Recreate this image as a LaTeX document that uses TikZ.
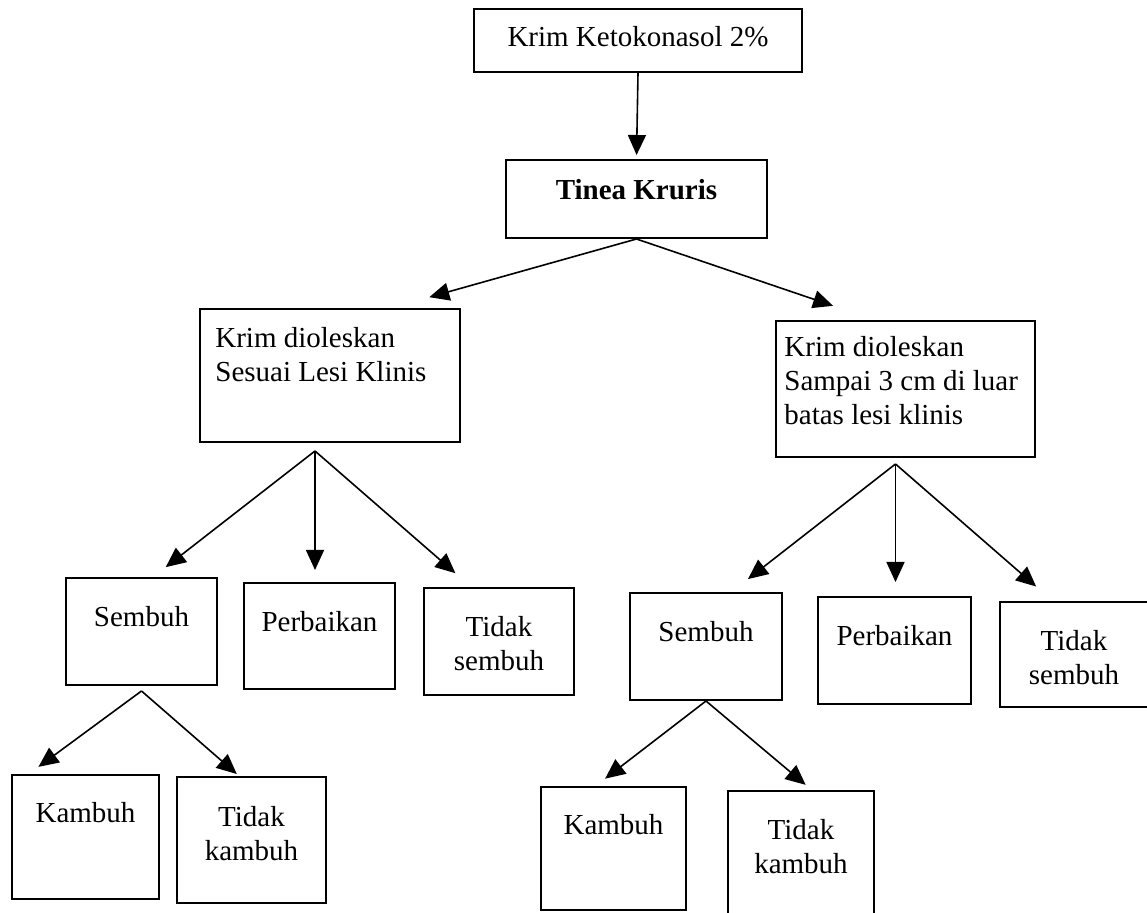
\documentclass[tikz,border=0pt]{standalone}
\usepackage{fontspec}
\setmainfont{Liberation Serif}
\usetikzlibrary{arrows.meta}

\begin{document}
\begin{tikzpicture}[x=0.5pt,y=-0.5pt,
    kotak/.style={draw, line width=1pt, inner sep=0pt},
    teks/.style={inner sep=0pt, font=\fontsize{14.5}{17}\selectfont},
    panah/.style={line width=0.8pt, -{Triangle[length=10pt,width=9pt]}}]
    \useasboundingbox (0,0) rectangle (1147,913);

    % Niveau 1 : krim + diagnosis
    \node[kotak, minimum width=164pt, minimum height=31.5pt] (top) at (638,40.5) {};
    \node[teks, anchor=north] (t-top) at ([yshift=-7.1pt]top.north) {\strut Krim Ketokonasol 2\%};
    \node[kotak, minimum width=130.5pt, minimum height=39pt] (tinea) at (636.5,199) {};
    \node[teks, anchor=north] (t-tinea) at ([yshift=-8.1pt]tinea.north) {\strut\textbf{Tinea Kruris}};

    % Niveau 2 : cara pengolesan
    \node[kotak, minimum width=130pt, minimum height=66.5pt] (lkrim) at (330,375.5) {};
    \node[teks, anchor=north west, align=left] (t-lkrim) at ([xshift=8pt,yshift=-7.6pt]lkrim.north west)
        {\strut Krim dioleskan\\Sesuai Lesi Klinis};
    \node[kotak, minimum width=129.5pt, minimum height=68pt] (rkrim) at (905.5,389) {};
    \node[teks, anchor=north west, align=left] (t-rkrim) at ([xshift=4.5pt,yshift=-6.1pt]rkrim.north west)
        {\strut Krim dioleskan\\Sampai 3 cm di luar\\batas lesi klinis};

    % Niveau 3 : hasil (kiri)
    \node[kotak, minimum width=75.5pt, minimum height=53.5pt] (lsembuh) at (141.5,631.5) {};
    \node[teks, anchor=north] (t-lsembuh) at ([yshift=-12.6pt]lsembuh.north) {\strut Sembuh};
    \node[kotak, minimum width=75.5pt, minimum height=53pt] (lperbaikan) at (319.5,636) {};
    \node[teks, anchor=north] (t-lperbaikan) at ([yshift=-12.6pt]lperbaikan.north) {\strut Perbaikan};
    \node[kotak, minimum width=75pt, minimum height=53.5pt] (ltidak) at (499,641.5) {};
    \node[teks, anchor=north, align=center] (t-ltidak) at ([yshift=-12.6pt]ltidak.north) {\strut Tidak\\sembuh};

    % Niveau 3 : hasil (kanan)
    \node[kotak, minimum width=76pt, minimum height=53.5pt] (rsembuh) at (706,646.5) {};
    \node[teks, anchor=north] (t-rsembuh) at ([yshift=-12.6pt]rsembuh.north) {\strut Sembuh};
    \node[kotak, minimum width=76.5pt, minimum height=53.5pt] (rperbaikan) at (894.5,650.5) {};
    \node[teks, anchor=north] (t-rperbaikan) at ([yshift=-12.6pt]rperbaikan.north) {\strut Perbaikan};
    \node[kotak, minimum width=80pt, minimum height=52.5pt] (rtidak) at (1080,654.5) {};
    \node[teks, anchor=north, align=center] (t-rtidak) at ([xshift=-3pt,yshift=-12.6pt]rtidak.north) {\strut Tidak\\sembuh};

    % Niveau 4 : kambuh / tidak kambuh
    \node[kotak, minimum width=73.5pt, minimum height=62pt] (lkambuh) at (85.5,837) {};
    \node[teks, anchor=north] (t-lkambuh) at ([yshift=-12.1pt]lkambuh.north) {\strut Kambuh};
    \node[kotak, minimum width=74.5pt, minimum height=63pt] (ltkambuh) at (251.5,840) {};
    \node[teks, anchor=north, align=center] (t-ltkambuh) at ([yshift=-13.1pt]ltkambuh.north) {\strut Tidak\\kambuh};
    \node[kotak, minimum width=72.5pt, minimum height=61.5pt] (rkambuh) at (613.5,848.5) {};
    \node[teks, anchor=north] (t-rkambuh) at ([yshift=-12.1pt]rkambuh.north) {\strut Kambuh};
    \node[kotak, minimum width=73pt, minimum height=67pt] (rtkambuh) at (801,858) {};
    \node[teks, anchor=north, align=center] (t-rtkambuh) at ([yshift=-12.6pt]rtkambuh.north) {\strut Tidak\\kambuh};

    % Titik cabang
    \coordinate (lfork) at ([xshift=-7.5pt,yshift=-4pt]lkrim.south);
    \coordinate (rfork) at ([xshift=-5pt,yshift=-3pt]rkrim.south);
    \coordinate (lsfork) at ([yshift=-2.5pt]lsembuh.south);

    % Panah
    \draw[panah, shorten >=2pt] (top.south) -- (tinea.north);
    \draw[panah, shorten >=20pt] (tinea.south) -- (lkrim.48);
    \draw[panah, shorten >=22pt] (tinea.south) -- (rkrim.114);

    \draw[panah, shorten >=8pt] (lfork) -- (lsembuh.78);
    \draw[panah, shorten >=6pt] (lfork) -- (lfork |- lperbaikan.north);
    \draw[panah, shorten >=10.5pt] (lfork) -- (ltidak.117);

    \draw[panah, shorten >=10.5pt] (rfork) -- (rsembuh.65);
    \draw[panah, shorten >=7pt] (rfork) -- (rfork |- rperbaikan.north);
    \draw[panah, shorten >=11pt] (rfork) -- (rtidak.117);

    \draw[panah, shorten >=6pt] (lsfork) -- (lkambuh.132);
    \draw[panah, shorten >=1.5pt] (lsfork) -- (ltkambuh.101);
    \draw[panah, shorten >=6pt] (rsembuh.south) -- (rkambuh.106);
    \draw[panah, shorten >=4pt] (rsembuh.south) -- (rtkambuh.81);
\end{tikzpicture}
\end{document}
